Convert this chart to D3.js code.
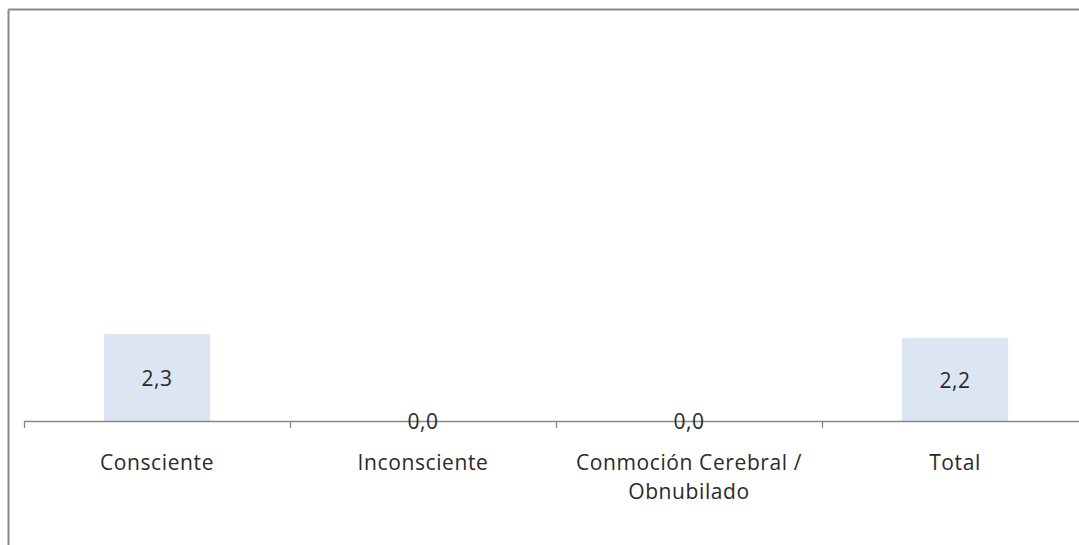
<!DOCTYPE html>
<html>
<head>
<meta charset="utf-8">
<script src="https://cdn.jsdelivr.net/npm/d3@7"></script>
<style>
  body { margin: 0; background: #fff; }
  svg { display: block; }
  text { font-family: "Open Sans", "DejaVu Sans", sans-serif; fill: #2a2a2a; letter-spacing: 0.6px; }
</style>
</head>
<body>
<svg width="1079" height="545"></svg>
<script>
// data
var categories = ["Consciente", "Inconsciente", "Conmoción Cerebral /\nObnubilado", "Total"];
var values = [2.3, 0.0, 0.0, 2.2];
var labels = ["2,3", "0,0", "0,0", "2,2"];

var svg = d3.select("svg");
var width = 1079, height = 545;
var axis_y = 421;
var left = 24, step = 266;

// frame lines (top and left)
svg.append("line").attr("x1", 8.5).attr("x2", width).attr("y1", 9.5).attr("y2", 9.5)
    .style("stroke", "#888").style("stroke-width", 2);
svg.append("line").attr("x1", 8.5).attr("x2", 8.5).attr("y1", 9.5).attr("y2", height)
    .style("stroke", "#888").style("stroke-width", 2);

var x = d3.scaleBand()
    .domain(categories)
    .range([left, left + step * categories.length])
    .paddingInner(0.6)
    .paddingOuter(0.3);

var xCat = d3.scaleBand()
    .domain(categories)
    .range([left, left + step * categories.length])
    .padding(0);

var y = d3.scaleLinear()
    .domain([0, 10])
    .range([axis_y, axis_y - 378]);

var data = categories.map(function(c, i) { return {cat: c, value: values[i], label: labels[i]}; });

// bars
svg.append("g").selectAll("rect")
    .data(data)
    .enter().append("rect")
    .attr("x", function(d) { return x(d.cat); })
    .attr("width", x.bandwidth())
    .attr("y", function(d) { return y(d.value); })
    .attr("height", function(d) { return y(0) - y(d.value); })
    .style("fill", "#dce6f2");

// category axis
var axis = svg.append("g");
axis.append("line")
    .attr("x1", xCat.range()[0]).attr("x2", xCat.range()[1])
    .attr("y1", axis_y + 0.5).attr("y2", axis_y + 0.5)
    .style("stroke", "#888").style("stroke-width", 1.3);
var bounds = categories.map(function(c) { return xCat(c); }).concat([xCat.range()[1]]);
axis.selectAll(".tick")
    .data(bounds)
    .enter().append("line")
    .attr("class", "tick")
    .attr("x1", function(d) { return d + 0.5; })
    .attr("x2", function(d) { return d + 0.5; })
    .attr("y1", axis_y)
    .attr("y2", axis_y + 7)
    .style("stroke", "#888").style("stroke-width", 1.3);

// category labels
var catText = axis.selectAll(".cat")
    .data(categories)
    .enter().append("text")
    .attr("class", "cat")
    .attr("text-anchor", "middle")
    .attr("font-size", "21px")
    .attr("y", axis_y + 49);
catText.selectAll("tspan")
    .data(function(d) { return d.split("\n").map(function(t) { return {t: t, c: d}; }); })
    .enter().append("tspan")
    .attr("x", function(d) { return xCat(d.c) + xCat.bandwidth() / 2; })
    .attr("dy", function(d, i) { return i === 0 ? 0 : 29; })
    .text(function(d) { return d.t; });

// value labels, centred on bars
svg.append("g").selectAll("text")
    .data(data)
    .enter().append("text")
    .attr("text-anchor", "middle")
    .attr("font-size", "21px")
    .attr("dy", "0.35em")
    .attr("x", function(d) { return x(d.cat) + x.bandwidth() / 2; })
    .attr("y", function(d) { return (y(d.value) + y(0)) / 2 + 1; })
    .text(function(d) { return d.label; });
</script>
</body>
</html>
